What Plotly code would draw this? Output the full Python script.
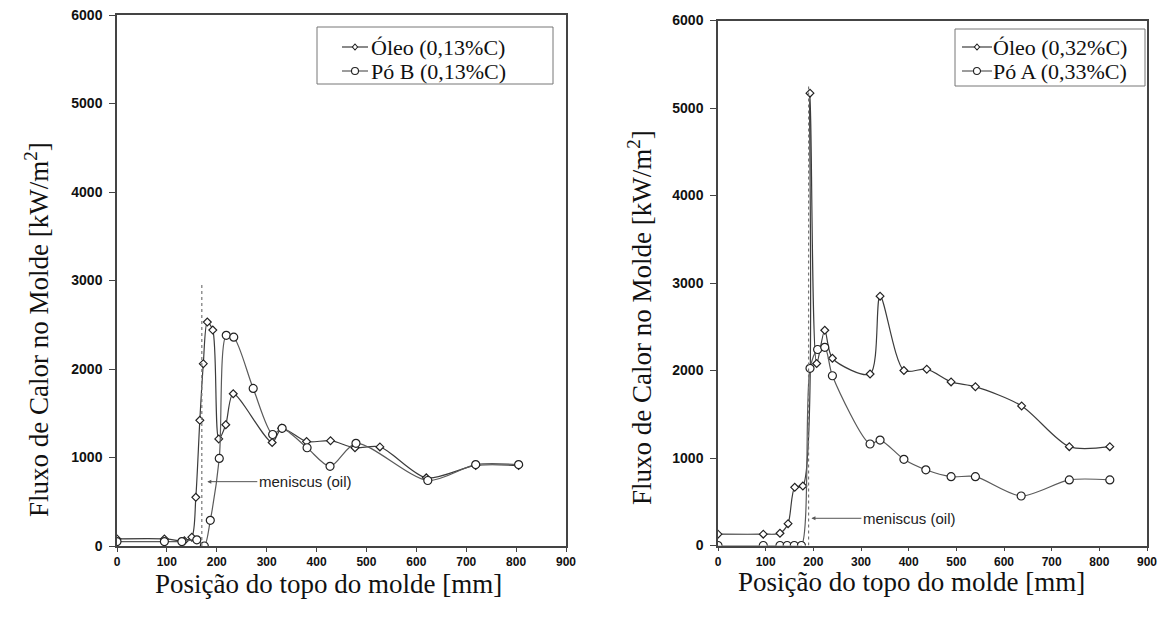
import plotly.graph_objects as go

# Heat flux profiles along the mould (position from mould top, mm -> kW/m2)
# Left panel: 0.13 %C steel
oleo_013_x = [0, 95, 135, 150, 158, 166, 173, 181, 192, 204, 218, 233, 311, 330, 380, 428, 477, 527, 620, 719, 805]
oleo_013_y = [80, 80, 60, 100, 550, 1420, 2060, 2530, 2440, 1210, 1370, 1720, 1170, 1330, 1180, 1190, 1110, 1120, 770, 910, 910]
po_b_013_x = [0, 95, 130, 160, 175, 187, 205, 219, 234, 273, 312, 331, 381, 427, 479, 623, 719, 805]
po_b_013_y = [50, 50, 50, 70, 0, 290, 990, 2380, 2360, 1780, 1260, 1330, 1110, 900, 1160, 740, 920, 920]

# Right panel: 0.32-0.33 %C steel
oleo_032_x = [0, 95, 130, 147, 161, 178, 193, 207, 224, 240, 319, 340, 390, 438, 489, 540, 637, 737, 822]
oleo_032_y = [130, 130, 140, 250, 665, 680, 5170, 2080, 2460, 2140, 1960, 2850, 2000, 2015, 1870, 1815, 1595, 1130, 1130]
po_a_033_x = [0, 95, 130, 145, 160, 175, 193, 209, 224, 240, 319, 340, 390, 436, 489, 540, 636, 737, 822]
po_a_033_y = [0, 0, 0, 0, 0, 0, 2025, 2240, 2265, 1940, 1160, 1205, 985, 865, 787, 787, 566, 750, 750]

# Oil meniscus position (mm) and height of its marker line (kW/m2)
meniscus_left = (170, 2950)
meniscus_right = (190, 5250)
meniscus_label_left = (181, 727)
meniscus_label_right = (196, 311)

x_ticks = [0, 100, 200, 300, 400, 500, 600, 700, 800, 900]
y_ticks = [0, 1000, 2000, 3000, 4000, 5000, 6000]

legend_left = ["Óleo (0,13%C)", "Pó B (0,13%C)"]
legend_right = ["Óleo (0,32%C)", "Pó A (0,33%C)"]

W, H = 1173, 627
LINE_OLEO = "#3c3c3c"
LINE_PO = "#5a5a5a"
EDGE = "#222"

fig = go.Figure()


def add_series(x, y, name, symbol, size, color, xa, ya):
    fig.add_trace(go.Scatter(
        x=x, y=y, name=name, mode="lines+markers", showlegend=False,
        line=dict(color=color, width=1.2, shape="spline", smoothing=0.8),
        marker=dict(symbol=symbol, size=size, color="white",
                    line=dict(color=EDGE, width=1.2)),
        xaxis=xa, yaxis=ya,
    ))


add_series(oleo_013_x, oleo_013_y, legend_left[0], "diamond", 6, LINE_OLEO, "x", "y")
add_series(po_b_013_x, po_b_013_y, legend_left[1], "circle", 8, LINE_PO, "x", "y")
add_series(oleo_032_x, oleo_032_y, legend_right[0], "diamond", 6, LINE_OLEO, "x2", "y2")
add_series(po_a_033_x, po_a_033_y, legend_right[1], "circle", 8, LINE_PO, "x2", "y2")

# Dotted meniscus markers
for (mx, mtop), xa, ya in [(meniscus_left, "x", "y"), (meniscus_right, "x2", "y2")]:
    fig.add_trace(go.Scatter(
        x=[mx, mx], y=[0, mtop], mode="lines", showlegend=False, hoverinfo="skip",
        line=dict(color="#777", width=1.2, dash="dot"), xaxis=xa, yaxis=ya,
    ))

for (lx, ly), xr, yr in [(meniscus_label_left, "x", "y"), (meniscus_label_right, "x2", "y2")]:
    fig.add_annotation(
        x=lx, y=ly, xref=xr, yref=yr, text="meniscus (oil)",
        showarrow=True, arrowhead=2, arrowsize=0.8, arrowwidth=1, arrowcolor="#555",
        ax=98, ay=0, font=dict(family="Liberation Sans", size=15, color="#222"),
    )

tick_font_y = dict(family="Liberation Sans", size=14, color="#111", weight="bold")
tick_font_x = dict(family="Liberation Sans", size=12, color="#111", weight="bold")

common_x = dict(range=[0, 900], tickvals=x_ticks, showline=True, mirror=True,
                linecolor="#444", linewidth=1.5, ticks="outside", ticklen=4,
                tickcolor="#444", showgrid=False, zeroline=False, tickfont=tick_font_x,
                automargin=False)
common_y = dict(range=[0, 6000], tickvals=y_ticks, showline=True, mirror=True,
                linecolor="#444", linewidth=1.5, ticks="outside", ticklen=6,
                tickcolor="#444", showgrid=False, zeroline=False, tickfont=tick_font_y,
                ticklabelstandoff=4, automargin=False)

fig.update_layout(
    width=W, height=H, margin=dict(l=0, r=0, t=0, b=0, pad=0, autoexpand=False),
    paper_bgcolor="white", plot_bgcolor="white", showlegend=False,
    xaxis=dict(domain=[117 / W, 566 / W], anchor="y", **common_x),
    yaxis=dict(domain=[1 - 546 / H, 1 - 15 / H], anchor="x", **common_y),
    xaxis2=dict(domain=[718 / W, 1147 / W], anchor="y2", **common_x),
    yaxis2=dict(domain=[1 - 545.5 / H, 1 - 20.5 / H], anchor="x2", **common_y),
)

# Legend boxes (drawn in pixel positions on the page)
legend_font = dict(family="Liberation Serif", size=22, color="#111")


def px(x):
    return x / W


def py(y):
    return 1 - y / H


def draw_legend(box, line_x, text_x, rows, labels):
    x0, y0, x1, y1 = box
    fig.add_shape(type="rect", xref="paper", yref="paper",
                  x0=px(x0), x1=px(x1), y0=py(y0), y1=py(y1),
                  line=dict(color="#777", width=1), fillcolor="white", layer="above")
    for row_y, label, symbol, color in zip(rows, labels, ["diamond", "circle"],
                                           [LINE_OLEO, LINE_PO]):
        fig.add_shape(type="line", xref="paper", yref="paper",
                      x0=px(line_x[0]), x1=px(line_x[1]), y0=py(row_y), y1=py(row_y),
                      line=dict(color=color, width=1.2), layer="above")
        mx = px((line_x[0] + line_x[1]) / 2)
        if symbol == "circle":
            fig.add_shape(type="circle", xref="paper", yref="paper",
                          xsizemode="pixel", ysizemode="pixel",
                          xanchor=mx, yanchor=py(row_y), x0=-3.5, x1=3.5, y0=-3.5, y1=3.5,
                          line=dict(color=EDGE, width=1.1), fillcolor="white", layer="above")
        else:
            fig.add_shape(type="path", xref="paper", yref="paper",
                          xsizemode="pixel", ysizemode="pixel",
                          xanchor=mx, yanchor=py(row_y),
                          path="M 0,3 L 2.6,0 L 0,-3 L -2.6,0 Z",
                          line=dict(color=EDGE, width=1.1), fillcolor="white", layer="above")
        fig.add_annotation(x=px(text_x), y=py(row_y), xref="paper", yref="paper",
                           text=label, showarrow=False, font=legend_font,
                           xanchor="left", yanchor="middle")


draw_legend((317, 27, 553, 84), (342, 368), 369, [47, 71], legend_left)
draw_legend((955, 29, 1145, 86), (962, 992), 991, [47, 71], legend_right)

title_font = dict(family="Liberation Serif", size=27, color="#111")
y_title = "Fluxo de Calor no Molde [kW/m<sup>2</sup>]"
x_title = "Posição do topo do molde [mm]"

titles = [
    (37, 330, y_title, -90),
    (640, 318, y_title, -90),
    (328, 584, x_title, 0),
    (912, 582, x_title, 0),
]
for tx, ty, txt, ang in titles:
    fig.add_annotation(x=px(tx), y=py(ty), xref="paper", yref="paper", text=txt,
                       textangle=ang, showarrow=False, font=title_font,
                       xanchor="center", yanchor="middle")

fig.write_html("out.html")
